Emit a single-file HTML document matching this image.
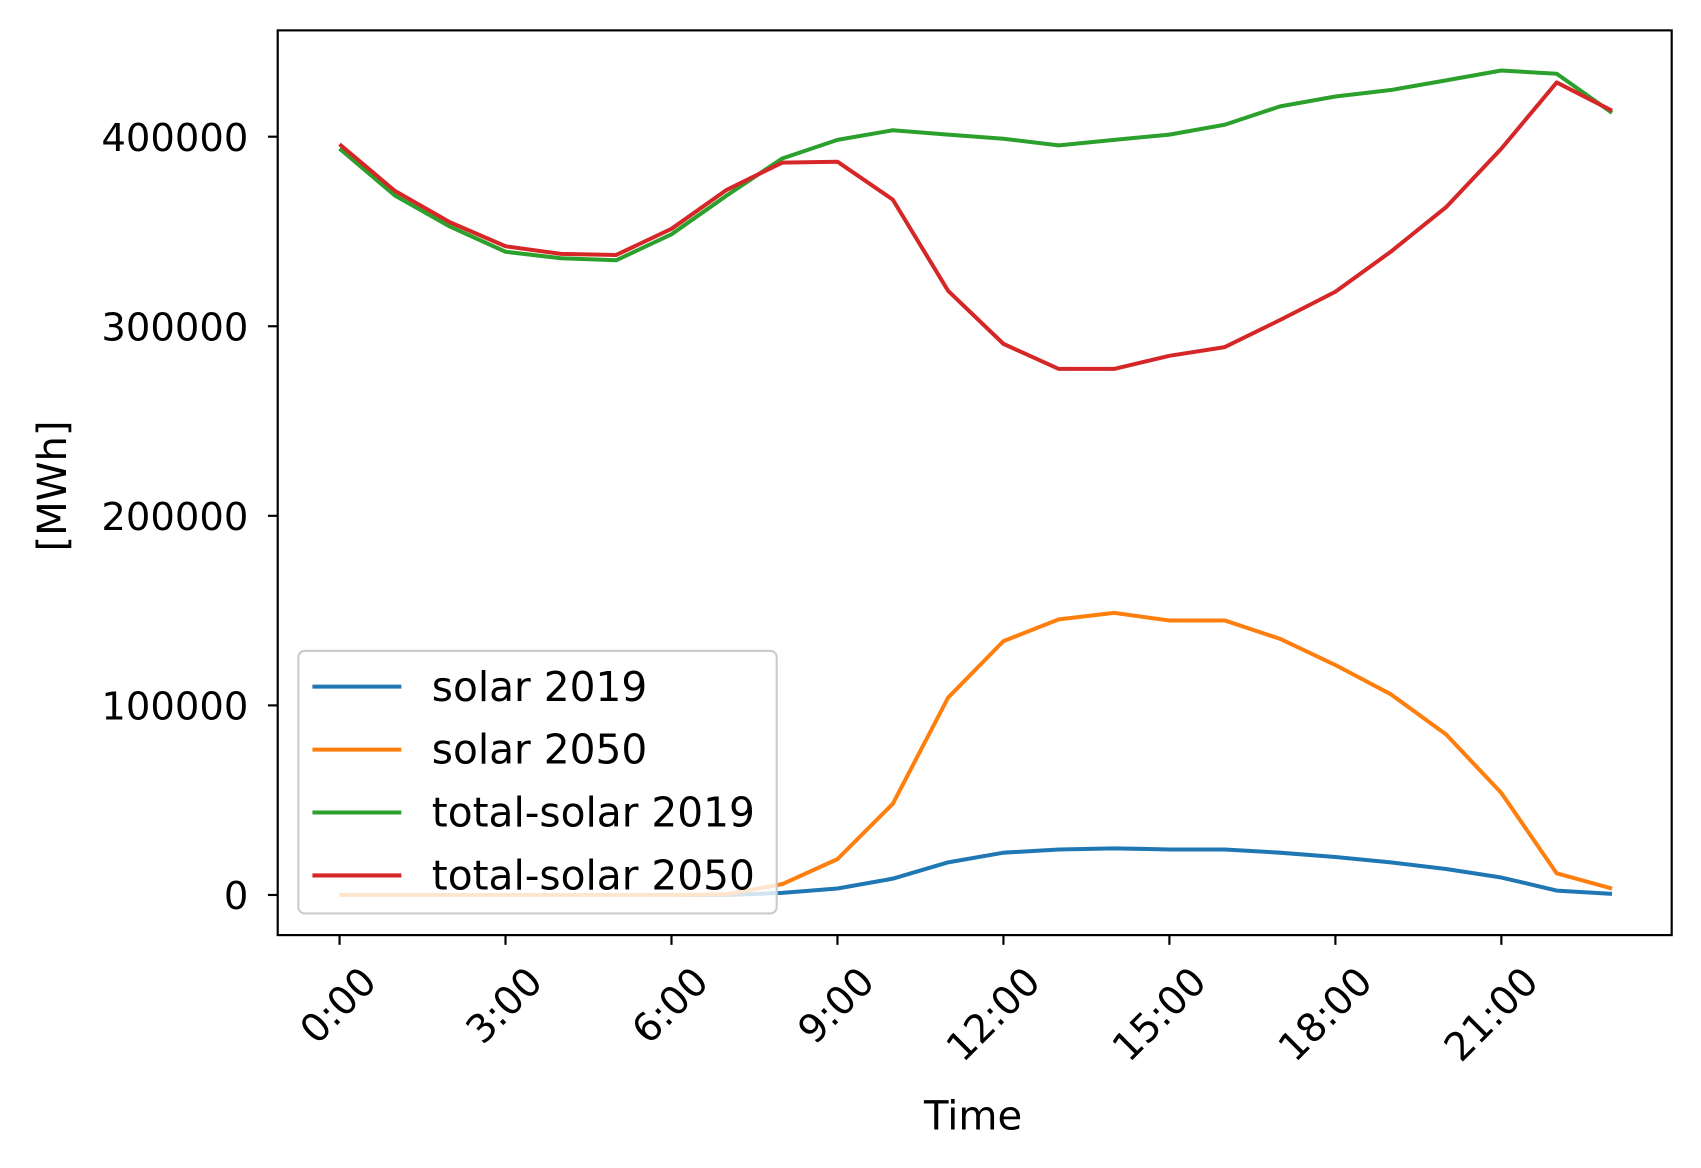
<!DOCTYPE html>
<html><head><meta charset="utf-8"><style>
html,body{margin:0;padding:0;background:#fff;}
svg{display:block;font-family:"DejaVu Sans","Liberation Sans",sans-serif;}
</style></head><body>
<svg id="chart" width="1701" height="1168" viewBox="0 0 1701 1168">
<rect width="1701" height="1168" fill="#fff"/>
<g transform="scale(1.0848)">
<g id="marks"></g>
<rect x="256" y="28" width="1285" height="834" fill="none" stroke="#000" stroke-width="2"/>
<g id="xaxis"></g><g id="yaxis"></g>
<text x="897" y="1041" font-size="37" text-anchor="middle">Time</text>
<text transform="translate(61,448) rotate(-90)" font-size="37" text-anchor="middle">[MWh]</text>
<g id="legend"></g>
</g>
</svg>
<script>
const hours=[0,1,2,3,4,5,6,7,8,9,10,11,12,13,14,15,16,17,18,19,20,21,22,23];
const solar2019=[0,0,0,0,0,0,0,0,1100,3400,8600,17200,22300,24000,24600,24000,24000,22300,20000,17200,13700,9200,2300,600];
const solar2050=[0,0,0,0,0,0,0,400,5700,18900,48100,104100,133900,145400,148800,144800,144800,135100,121300,105900,84700,53800,11400,3400];
const total2019=[393700,369000,352500,339300,335900,334800,348500,369000,388500,398300,403400,401100,398900,395400,398300,401100,406300,416000,421200,424600,429700,434900,433200,412600];
const total2050=[396000,371400,354800,342200,338200,337600,351400,372000,386300,386800,366800,318700,290700,277500,277500,284400,289000,303300,318200,339300,362800,393700,428600,413700];
const seriesNames=["solar 2019","solar 2050","total-solar 2019","total-solar 2050"];
const xTickHours=[0,3,6,9,12,15,18,21];
const xTickLabels=["0:00","3:00","6:00","9:00","12:00","15:00","18:00","21:00"];
const yTicks=[0,100000,200000,300000,400000];
const colors=["#1f77b4","#ff7f0e","#2ca02c","#d62728"];
const NS="http://www.w3.org/2000/svg";
const xs=h=>313+h*(1486-313)/23;
const ys=v=>825-v*(825-126)/400000;
function mk(t,a,p){const e=document.createElementNS(NS,t);for(const k in a)e.setAttribute(k,a[k]);p.appendChild(e);return e;}
const marks=document.getElementById('marks');
[solar2019,solar2050,total2019,total2050].forEach((s,i)=>{
  const p=mk('polyline',{points:s.map((v,j)=>xs(hours[j])+','+ys(v)).join(' '),fill:'none',stroke:colors[i],'stroke-width':3.7,'stroke-linejoin':'round'},marks);
  
  
});
const xa=document.getElementById('xaxis');
xTickHours.forEach((h,i)=>{
  const x=xs(h);
  mk('line',{x1:x,y1:862,x2:x,y2:871,stroke:'#000','stroke-width':2},xa);
  const t=mk('text',{transform:`translate(${x+36},${907}) rotate(-45)`,'font-size':36,'text-anchor':'end'},xa);
  t.textContent=xTickLabels[i];
  
  
});
const ya=document.getElementById('yaxis');
yTicks.forEach(v=>{
  const y=ys(v);
  mk('line',{x1:247,y1:y,x2:256,y2:y,stroke:'#000','stroke-width':2},ya);
  const t=mk('text',{x:229,y:y+13,'font-size':35.5,'text-anchor':'end'},ya);
  t.textContent=String(v);
  
  
});
const lg=document.getElementById('legend');


mk('rect',{x:275,y:600,width:441,height:242,rx:6,fill:'#fff','fill-opacity':0.8,stroke:'#ccc','stroke-width':2},lg);
seriesNames.forEach((n,i)=>{
  const y=633+i*58;
  const g=mk('g',{},lg);
  
  
  mk('line',{x1:288,y1:y,x2:370,y2:y,stroke:colors[i],'stroke-width':3.7},g);
  const t=mk('text',{x:398,y:y+13,'font-size':37.5},g);
  t.textContent=n;
});
</script>
</body></html>
